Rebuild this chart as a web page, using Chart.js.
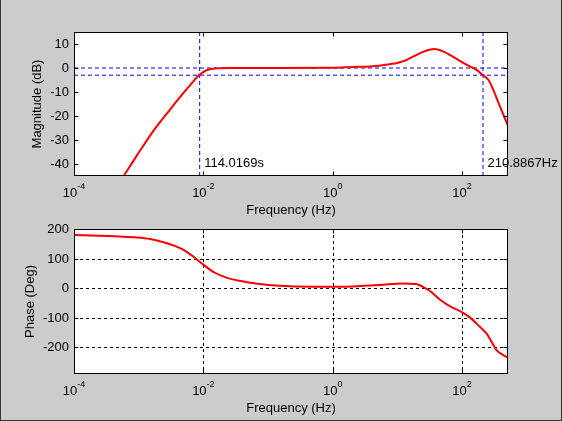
<!DOCTYPE html>
<html>
<head>
<meta charset="utf-8">
<script src="https://cdn.jsdelivr.net/npm/chart.js@4.4.1/dist/chart.umd.min.js"></script>
<style>
html,body{margin:0;padding:0;background:#cccccc;}
#wrap{position:relative;width:562px;height:421px;background:#cccccc;overflow:hidden;}
#wrap canvas{position:absolute;left:0;top:0;}
#frame{position:absolute;left:0;top:0;width:562px;height:421px;box-sizing:border-box;border-left:1px solid #333;border-right:1px solid #333;border-bottom:1px solid #333;pointer-events:none;}
</style>
</head>
<body>
<div id="wrap">
<canvas id="mag" width="562" height="421"></canvas>
<canvas id="phase" width="562" height="421"></canvas>
<div id="frame"></div>
</div>
<script>
// ---- data ----
const freqMin = 1e-4;
const freqMax = 513;
const freqTickExps = ['-4', '-2', '0', '2'];
const freqTicks = [1e-4, 1e-2, 1, 1e2];

const magYTicks = [10, 0, -10, -20, -30, -40];
const magYMin = -45, magYMax = 15;
const phaseYTicks = [200, 100, 0, -100, -200];
const phaseYMin = -290, phaseYMax = 200;

const magFreq = [4.47e-4, 6.14e-4, 9.31e-4, 1.68e-3, 3.04e-3, 4.89e-3, 6.59e-3, 8.53e-3, 1.12e-2, 1.6e-2, 2.5e-2, 0.1, 1.0, 1.82, 5.3, 7.57, 9.62, 11.48, 13.74, 17.38, 20.9, 24.83, 30.2, 37.76, 44.67, 50.7, 64.4, 92.0, 131.5, 167.1, 210.9, 252.9, 302.7, 384.6, 516.4];
const magDb   = [-50, -44.2, -36.6, -26.3, -17.4, -10.5, -6.4, -3, -0.95, -0.1, 0, 0, 0.1, 0.35, 0.95, 1.6, 2.0, 2.6, 3.3, 4.7, 5.8, 6.7, 7.5, 7.9, 7.5, 6.9, 5.5, 3.0, 0.7, -0.8, -3, -4.8, -9, -16, -24.3];

const phaseFreq = [1e-4, 2.51e-4, 5.01e-4, 8.32e-4, 1.51e-3, 2.75e-3, 3.72e-3, 5.01e-3, 7.08e-3, 1.02e-2, 1.48e-2, 2.34e-2, 3.8e-2, 6.92e-2, 0.149, 0.49, 2.04, 5.3, 12.2, 19.6, 24.8, 31.6, 45.1, 64.4, 103.8, 131.8, 188.4, 238.8, 285.8, 341.2, 432.5, 516.4];
const phaseDeg  = [180, 177, 175, 172, 166, 152, 142, 129, 106, 78, 53, 35, 24, 15, 8, 4.8, 6, 10.5, 16.2, 13.9, 4.7, -8.8, -38, -60.5, -83.2, -98.7, -130.5, -152.8, -181, -209, -226, -235];

const cutoffLowSec = 114.0169;
const cutoffHighHz = 210.8867;
const markerLabelDb = -40;

// ---- helpers ----
const FONT = '"Liberation Sans", Arial, Helvetica, sans-serif';
const toXY = (xs, ys) => xs.map((x, i) => ({x: x, y: ys[i]}));

function makeAxesPlugin(cfg) {
  return {
    id: 'matlabAxes_' + cfg.name,
    beforeDraw(chart) {
      const {ctx, chartArea: a} = chart;
      ctx.save();
      ctx.fillStyle = '#ffffff';
      ctx.fillRect(a.left, a.top, a.right - a.left, a.bottom - a.top);
      ctx.restore();
    },
    beforeDatasetsDraw(chart) {
      if (!cfg.grid) return;
      const {ctx, chartArea: a, scales} = chart;
      ctx.save();
      ctx.strokeStyle = '#000';
      ctx.lineWidth = 1;
      ctx.setLineDash([3, 3]);
      freqTicks.forEach(v => {
        const px = Math.round(scales.x.getPixelForValue(v)) + 0.5;
        if (px <= a.left + 1 || px >= a.right - 1) return;
        ctx.beginPath(); ctx.moveTo(px, a.top); ctx.lineTo(px, a.bottom); ctx.stroke();
      });
      cfg.yTicks.forEach(v => {
        const py = Math.round(scales.y.getPixelForValue(v)) + 0.5;
        if (py >= a.bottom - 1) return;
        ctx.beginPath(); ctx.moveTo(a.left, py); ctx.lineTo(a.right, py); ctx.stroke();
      });
      ctx.restore();
    },
    afterDraw(chart) {
      const {ctx, chartArea: a, scales} = chart;
      ctx.save();
      ctx.strokeStyle = '#000';
      ctx.lineWidth = 1;
      ctx.setLineDash([]);
      const L = Math.round(a.left) + 0.5, R = Math.round(a.right) - 0.5;
      const T = Math.round(a.top) + 0.5, B = Math.round(a.bottom) - 0.5;
      ctx.strokeRect(L, T, R - L, B - T);
      const tl = 4;
      ctx.beginPath();
      freqTicks.forEach(v => {
        const px = Math.round(scales.x.getPixelForValue(v)) + 0.5;
        ctx.moveTo(px, B); ctx.lineTo(px, B - tl);
        ctx.moveTo(px, T); ctx.lineTo(px, T + tl);
      });
      cfg.yTicks.forEach(v => {
        const py = Math.round(scales.y.getPixelForValue(v)) + 0.5;
        ctx.moveTo(L, py); ctx.lineTo(L + tl, py);
        ctx.moveTo(R, py); ctx.lineTo(R - tl, py);
      });
      ctx.stroke();

      ctx.fillStyle = '#000';
      // y tick labels
      ctx.font = '13px ' + FONT;
      ctx.textAlign = 'right';
      ctx.textBaseline = 'middle';
      cfg.yTicks.forEach(v => {
        const py = scales.y.getPixelForValue(v);
        ctx.fillText(String(v), a.left - 5, py + 0.5);
      });
      // x tick labels 10^n
      freqTicks.forEach((v, i) => {
        const px = scales.x.getPixelForValue(v);
        const exp = freqTickExps[i];
        ctx.font = '13px ' + FONT;
        const wb = ctx.measureText('10').width;
        ctx.font = '9px ' + FONT;
        const we = ctx.measureText(exp).width;
        const x0 = px - (wb + we) / 2;
        ctx.textAlign = 'left';
        ctx.textBaseline = 'alphabetic';
        ctx.font = '13px ' + FONT;
        ctx.fillText('10', x0, a.bottom + 21);
        ctx.font = '9px ' + FONT;
        ctx.fillText(exp, x0 + wb, a.bottom + 12.5);
      });
      // axis titles
      ctx.font = '13px ' + FONT;
      ctx.textAlign = 'center';
      ctx.textBaseline = 'middle';
      ctx.fillText(cfg.xTitle, (a.left + a.right) / 2, a.bottom + 34);
      ctx.save();
      ctx.translate(cfg.yTitleX, (a.top + a.bottom) / 2);
      ctx.rotate(-Math.PI / 2);
      ctx.fillText(cfg.yTitle, 0, 0);
      ctx.restore();
      // annotation texts
      (cfg.texts || []).forEach(t => {
        ctx.font = '13px ' + FONT;
        ctx.textAlign = 'left';
        ctx.textBaseline = 'middle';
        ctx.fillText(t.text, scales.x.getPixelForValue(t.x) + 4.5, scales.y.getPixelForValue(t.y) - 1);
      });
      ctx.restore();
    }
  };
}

const lowCutHz = 1 / cutoffLowSec;
const redLine = {borderColor: '#ff0000', borderWidth: 2, pointRadius: 0, cubicInterpolationMode: 'monotone', fill: false};
const blueDash = {borderColor: '#0000ff', borderWidth: 1, borderDash: [4, 3], pointRadius: 0, fill: false};

new Chart(document.getElementById('mag'), {
  type: 'line',
  data: {
    datasets: [
      Object.assign({data: toXY(magFreq, magDb)}, redLine),
      Object.assign({data: [{x: freqMin, y: 0}, {x: freqMax, y: 0}]}, blueDash),
      Object.assign({data: [{x: freqMin, y: -3}, {x: freqMax, y: -3}]}, blueDash),
      Object.assign({data: [{x: lowCutHz, y: magYMin}, {x: lowCutHz, y: magYMax}]}, blueDash),
      Object.assign({data: [{x: cutoffHighHz, y: magYMin}, {x: cutoffHighHz, y: magYMax}]}, blueDash)
    ]
  },
  options: {
    responsive: false,
    animation: false,
    devicePixelRatio: 1,
    layout: {padding: {left: 74, top: 32, right: 54, bottom: 245}},
    plugins: {legend: {display: false}, tooltip: {enabled: false}},
    scales: {
      x: {type: 'logarithmic', min: freqMin, max: freqMax, display: false},
      y: {type: 'linear', min: magYMin, max: magYMax, display: false}
    }
  },
  plugins: [makeAxesPlugin({
    name: 'mag', grid: false, yTicks: magYTicks,
    xTitle: 'Frequency (Hz)', yTitle: 'Magnitude (dB)', yTitleX: 37.5,
    texts: [
      {text: cutoffLowSec.toFixed(4) + 's', x: lowCutHz, y: markerLabelDb},
      {text: cutoffHighHz.toFixed(4) + 'Hz', x: cutoffHighHz, y: markerLabelDb}
    ]
  })]
});

new Chart(document.getElementById('phase'), {
  type: 'line',
  data: {
    datasets: [
      Object.assign({data: toXY(phaseFreq, phaseDeg)}, redLine)
    ]
  },
  options: {
    responsive: false,
    animation: false,
    devicePixelRatio: 1,
    layout: {padding: {left: 74, top: 229, right: 54, bottom: 47}},
    plugins: {legend: {display: false}, tooltip: {enabled: false}},
    scales: {
      x: {type: 'logarithmic', min: freqMin, max: freqMax, display: false},
      y: {type: 'linear', min: phaseYMin, max: phaseYMax, display: false}
    }
  },
  plugins: [makeAxesPlugin({
    name: 'phase', grid: true, yTicks: phaseYTicks,
    xTitle: 'Frequency (Hz)', yTitle: 'Phase (Deg)', yTitleX: 30
  })]
});
</script>
</body>
</html>
